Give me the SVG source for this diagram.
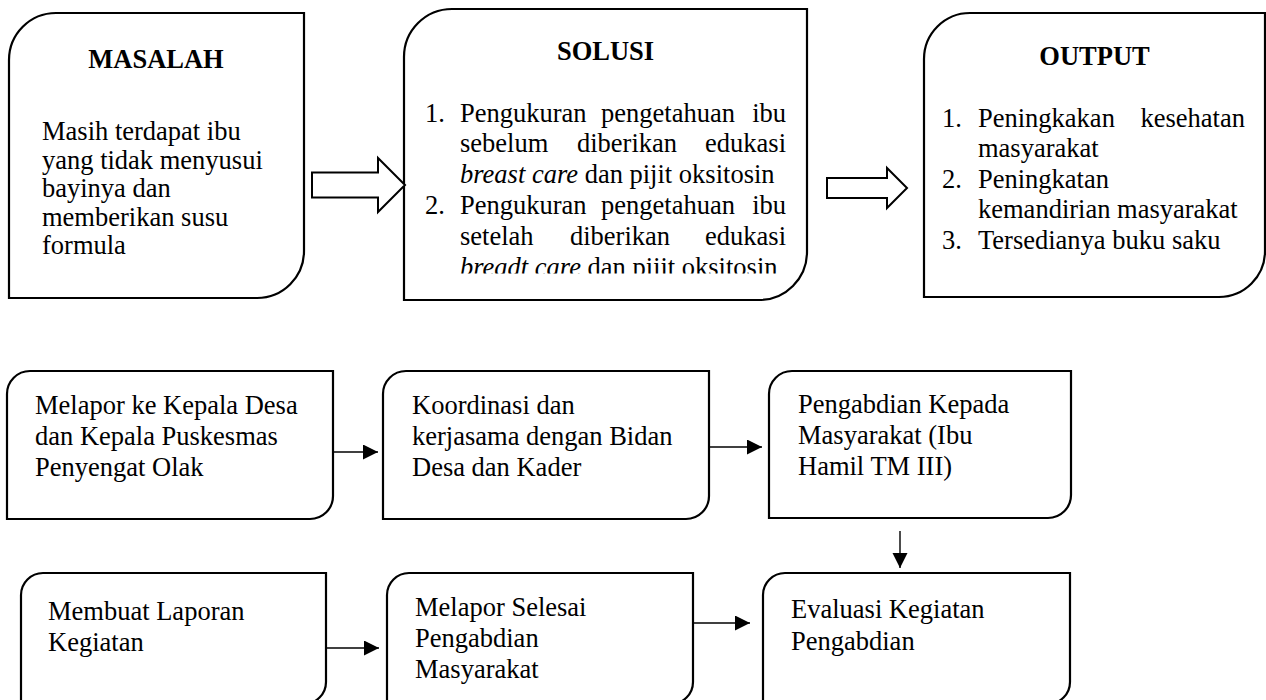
<svg xmlns="http://www.w3.org/2000/svg" width="1266" height="700" viewBox="0 0 1266 700">
<style>
.box{fill:#fff;stroke:#000;stroke-width:2.2}
.blk{fill:#fff;stroke:#000;stroke-width:2}
.con{fill:none;stroke:#000;stroke-width:1.4}
text{font-family:"Liberation Serif","Times New Roman",serif;font-size:26.5px;fill:#000}
.t{font-weight:bold;text-anchor:middle}
.i{font-style:italic}
.e{text-anchor:end}
</style>
<defs>
<marker id="ah" markerUnits="userSpaceOnUse" markerWidth="16" markerHeight="16" refX="15" refY="7.5" orient="auto">
<path d="M0,0 L15,7.5 L0,15 Z" fill="#000"/>
</marker>
<clipPath id="clipSol"><rect x="404" y="0" width="404" height="273.5"/></clipPath>
</defs>
<rect width="1266" height="700" fill="#fff"/>

<g id="masalah">
<path class="box" d="M9,60 A47,47 0 0 1 56,13 L304,13 L304,251 A47,47 0 0 1 257,298 L9,298 Z"/>
<text class="t" x="156" y="68">MASALAH</text>
<text x="42" y="140">Masih terdapat ibu</text>
<text x="42" y="168.5">yang tidak menyusui</text>
<text x="42" y="197">bayinya dan</text>
<text x="42" y="225.5">memberikan susu</text>
<text x="42" y="254">formula</text>
</g>

<g id="solusi">
<path class="box" d="M404,57 A48,48 0 0 1 452,9 L807,9 L807,252 A48,48 0 0 1 759,300 L404,300 Z"/>
<text class="t" x="605.5" y="60">SOLUSI</text>
<g clip-path="url(#clipSol)">
<text x="425" y="121.5">1.</text>
<text x="460" y="121.5">Pengukuran</text>
<text x="601" y="121.5">pengetahuan</text>
<text class="e" x="786" y="121.5">ibu</text>
<text x="460" y="152.3">sebelum</text>
<text x="577" y="152.3">diberikan</text>
<text class="e" x="786" y="152.3">edukasi</text>
<text x="460" y="183.1"><tspan class="i">breast care</tspan> dan pijit oksitosin</text>
<text x="425" y="213.9">2.</text>
<text x="460" y="213.9">Pengukuran</text>
<text x="601" y="213.9">pengetahuan</text>
<text class="e" x="786" y="213.9">ibu</text>
<text x="460" y="244.7">setelah</text>
<text x="570" y="244.7">diberikan</text>
<text class="e" x="786" y="244.7">edukasi</text>
<text x="460" y="275.5"><tspan class="i">breadt care</tspan> dan pijit oksitosin</text>
</g>
</g>

<g id="output">
<path class="box" d="M924,59 A46,46 0 0 1 970,13 L1265,13 L1265,251 A46,46 0 0 1 1219,297 L924,297 Z"/>
<text class="t" x="1094.5" y="65">OUTPUT</text>
<text x="942" y="126.5">1.</text>
<text x="978" y="126.5">Peningkakan</text>
<text class="e" x="1245" y="126.5">kesehatan</text>
<text x="978" y="157">masyarakat</text>
<text x="942" y="187.5">2.</text>
<text x="978" y="187.5">Peningkatan</text>
<text x="978" y="218">kemandirian masyarakat</text>
<text x="942" y="248.5">3.</text>
<text x="978" y="248.5">Tersedianya buku saku</text>
</g>

<g id="melapor-kepala">
<path class="box" d="M7,394 A23,23 0 0 1 30,371 L333,371 L333,496 A23,23 0 0 1 310,519 L7,519 Z"/>
<text x="35" y="414">Melapor ke Kepala Desa</text>
<text x="35" y="445">dan Kepala Puskesmas</text>
<text x="35" y="476">Penyengat Olak</text>
</g>

<g id="koordinasi">
<path class="box" d="M383,394 A23,23 0 0 1 406,371 L709,371 L709,496 A23,23 0 0 1 686,519 L383,519 Z"/>
<text x="412" y="414">Koordinasi dan</text>
<text x="412" y="445">kerjasama dengan Bidan</text>
<text x="412" y="476">Desa dan Kader</text>
</g>

<g id="pengabdian">
<path class="box" d="M769,394 A23,23 0 0 1 792,371 L1071,371 L1071,495 A23,23 0 0 1 1048,518 L769,518 Z"/>
<text x="798" y="413">Pengabdian Kepada</text>
<text x="798" y="444">Masyarakat (Ibu</text>
<text x="798" y="475">Hamil TM III)</text>
</g>

<g id="membuat-laporan">
<path class="box" d="M21,595 A22,22 0 0 1 43,573 L326,573 L326,682 A22,22 0 0 1 304,704 L21,704 Z"/>
<text x="48" y="620">Membuat Laporan</text>
<text x="48" y="651">Kegiatan</text>
</g>

<g id="melapor-selesai">
<path class="box" d="M387,595 A22,22 0 0 1 409,573 L693,573 L693,682 A22,22 0 0 1 671,704 L387,704 Z"/>
<text x="415" y="616">Melapor Selesai</text>
<text x="415" y="647">Pengabdian</text>
<text x="415" y="678">Masyarakat</text>
</g>

<g id="evaluasi">
<path class="box" d="M763,595 A22,22 0 0 1 785,573 L1070,573 L1070,682 A22,22 0 0 1 1048,704 L763,704 Z"/>
<text x="791" y="618">Evaluasi Kegiatan</text>
<text x="791" y="650">Pengabdian</text>
</g>

<g id="connectors">
<path class="blk" d="M312,172.5 L378,172.5 L378,158 L405,185 L378,212 L378,197.5 L312,197.5 Z"/>
<path class="blk" d="M827,178 L887,178 L887,168 L907,188 L887,208 L887,198 L827,198 Z"/>
<line class="con" x1="333" y1="452" x2="378" y2="452" marker-end="url(#ah)"/>
<line class="con" x1="709" y1="447" x2="762" y2="447" marker-end="url(#ah)"/>
<line class="con" x1="900" y1="531" x2="900" y2="568" marker-end="url(#ah)"/>
<line class="con" x1="326" y1="648" x2="379" y2="648" marker-end="url(#ah)"/>
<line class="con" x1="693" y1="623" x2="750" y2="623" marker-end="url(#ah)"/>
</g>
</svg>
